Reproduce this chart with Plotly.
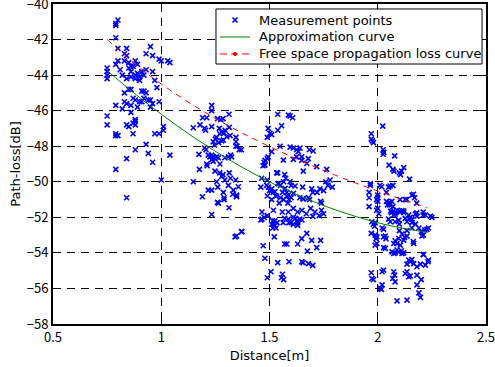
import plotly.graph_objects as go

near_points = [
    (0.80,-40.9),(0.79,-41.1),(0.79,-41.2),(0.79,-41.9),(0.80,-42.5),(0.84,-42.5),(0.95,-42.4),(0.83,-42.8),
    (0.84,-42.9),(0.93,-42.8),(0.96,-42.9),(0.99,-43.1),(1.00,-43.2),(1.03,-43.2),(1.04,-43.3),(0.80,-43.2),
    (0.79,-43.4),(0.83,-43.2),(0.85,-43.3),(0.86,-43.5),(0.88,-43.2),(0.89,-43.4),(0.87,-43.5),(0.75,-43.6),
    (0.75,-43.8),(0.75,-44.0),(0.75,-44.2),(0.81,-43.7),(0.85,-43.6),(0.86,-43.8),(0.88,-44.0),(0.89,-43.9),
    (0.90,-44.1),(0.91,-43.8),(0.92,-44.0),(0.93,-43.7),(0.96,-43.8),(0.97,-44.3),(0.98,-44.7),(0.90,-44.3),
    (0.88,-44.2),(0.86,-44.1),(0.84,-44.2),(0.82,-44.0),(0.85,-44.8),(0.86,-44.8),(0.83,-45.0),(0.91,-44.9),
    (0.92,-44.9),(0.93,-45.0),(0.92,-45.3),(0.94,-45.4),(0.96,-45.6),(0.95,-45.8),(0.90,-45.5),(0.91,-45.5),
    (0.89,-45.8),(0.83,-45.5),(0.84,-45.6),(0.87,-45.3),(0.88,-45.4),(0.86,-45.7),(0.79,-45.7),(0.82,-45.9),
    (0.86,-46.1),(0.95,-45.4),(0.99,-45.5),(0.75,-46.3),(0.75,-46.8),(0.84,-46.8),(0.85,-46.9),(0.88,-46.5),
    (0.88,-46.6),(0.88,-46.8),(0.87,-46.7),(0.79,-47.3),(0.80,-47.4),(0.79,-47.4),(0.87,-47.3),(0.97,-47.3),
    (0.99,-47.3),(1.01,-46.9),(1.01,-47.1),(0.88,-48.2),(0.93,-47.9),(0.94,-48.4),(1.04,-48.5),(0.84,-48.7),
    (0.96,-48.9),(0.79,-49.3),(1.00,-49.9),(0.84,-50.9),
]

mid_points = [
    (1.233,-45.7),(1.233,-46.0),(1.191,-46.4),(1.21,-46.4),(1.26,-46.45),(1.275,-46.5),(1.285,-46.45),(1.313,-46.2),
    (1.148,-46.96),(1.179,-46.8),(1.20,-47.0),(1.205,-47.1),(1.233,-46.9),(1.268,-47.0),(1.279,-47.19),(1.27,-47.3),
    (1.29,-47.25),(1.295,-47.1),(1.302,-47.47),(1.318,-47.4),(1.287,-47.65),(1.28,-47.7),(1.265,-47.8),(1.255,-47.5),
    (1.25,-47.6),(1.24,-47.75),(1.245,-47.93),(1.314,-46.94),(1.345,-47.75),(1.345,-48.0),(1.20,-48.1),(1.207,-48.2),
    (1.174,-48.46),(1.217,-48.5),(1.225,-48.6),(1.233,-48.5),(1.24,-48.6),(1.248,-48.7),(1.255,-48.6),(1.264,-48.65),
    (1.24,-48.85),(1.233,-48.75),(1.21,-49.0),(1.212,-49.1),(1.31,-48.6),(1.32,-48.5),(1.325,-48.6),(1.294,-48.65),
    (1.271,-49.0),(1.176,-49.3),(1.248,-49.4),(1.27,-49.5),(1.28,-49.7),(1.285,-49.6),(1.314,-49.5),(1.32,-49.8),
    (1.148,-50.0),(1.256,-50.0),(1.294,-49.9),(1.344,-49.9),(1.31,-50.2),(1.261,-50.3),(1.217,-50.47),(1.233,-50.47),
    (1.333,-50.47),(1.287,-50.6),(1.19,-50.84),(1.29,-50.9),(1.348,-50.84),(1.26,-51.16),(1.29,-51.0),(1.313,-51.46),
    (1.33,-50.7),(1.233,-51.84),(1.341,-53.1),(1.372,-52.8),(1.264,-51.2),
    (1.538,-46.2),(1.587,-46.25),(1.595,-46.3),(1.607,-46.4),(1.556,-46.85),(1.538,-47.1),(1.494,-47.0),(1.502,-47.28),
    (1.51,-47.35),(1.49,-47.5),(1.345,-47.5),(1.35,-48.0),(1.36,-48.2),(1.37,-48.2),(1.549,-48.0),(1.595,-48.05),
    (1.61,-48.1),(1.625,-48.2),(1.633,-48.3),(1.641,-48.1),(1.625,-48.6),(1.51,-48.3),(1.47,-49.1),(1.475,-48.9),
    (1.48,-48.8),(1.49,-48.7),(1.649,-48.8),(1.538,-49.5),(1.57,-49.6),(1.575,-49.8),(1.565,-50.0),(1.595,-50.0),
    (1.656,-49.4),(1.464,-49.8),(1.487,-50.2),(1.49,-49.9),(1.495,-50.3),(1.50,-50.5),(1.51,-50.4),(1.517,-50.6),
    (1.525,-50.56),(1.53,-50.8),(1.54,-50.1),(1.55,-50.2),(1.572,-50.37),(1.58,-50.6),(1.587,-50.75),(1.60,-50.9),
    (1.61,-50.65),(1.55,-50.9),(1.56,-50.6),(1.356,-50.28),(1.348,-50.75),
    (1.684,-48.2),(1.702,-48.27),(1.649,-48.6),(1.679,-48.7),(1.672,-48.97),(1.718,-49.15),(1.764,-49.3),(1.61,-48.74),
    (1.564,-48.78),(1.479,-49.06),(1.494,-48.6),(1.533,-49.5),
    (1.49,-50.8),(1.51,-51.0),(1.53,-50.8),(1.545,-51.2),(1.565,-51.0),(1.58,-50.8),(1.585,-51.2),(1.59,-51.0),
    (1.656,-50.97),(1.465,-51.7),(1.475,-52.0),(1.465,-52.1),(1.46,-52.15),(1.49,-51.9),(1.518,-51.6),(1.535,-52.3),
    (1.525,-52.45),(1.515,-52.6),(1.53,-52.6),(1.51,-52.4),(1.559,-51.7),(1.587,-51.7),(1.57,-52.05),(1.587,-52.1),
    (1.61,-52.0),(1.62,-52.05),(1.64,-52.1),(1.65,-52.15),(1.60,-52.3),(1.61,-52.4),(1.63,-52.45),
    (1.371,-52.8),(1.348,-53.05),(1.522,-53.1),(1.57,-53.5),(1.58,-53.5),(1.471,-53.6),(1.63,-53.5),(1.649,-53.2),
    (1.479,-54.3),(1.538,-54.55),(1.59,-54.5),(1.649,-54.5),(1.507,-55.06),(1.56,-55.2),(1.565,-55.5),(1.555,-55.4),
    (1.49,-55.4),(1.672,-52.9),(1.695,-53.3),(1.736,-53.3),(1.675,-53.9),(1.718,-53.7),(1.655,-54.55),(1.68,-54.6),
    (1.70,-54.7),(1.736,-51.1),(1.74,-51.2),(1.695,-50.4),(1.70,-50.6),(1.733,-50.4),(1.68,-50.9),(1.685,-51.0),
    (1.64,-50.9),(1.655,-50.95),(1.618,-50.24),(1.653,-50.3),
    (1.61,-51.5),(1.63,-51.7),(1.65,-51.6),(1.67,-51.8),(1.69,-51.5),(1.71,-51.7),(1.73,-51.9),(1.74,-51.6),
    (1.75,-51.8),(1.70,-51.95),(1.563,-52.3),(1.59,-52.3),(1.627,-52.2),(1.63,-52.3),(1.515,-52.2),(1.525,-52.2),
    (1.46,-50.3),(1.54,-50.1),(1.6,-50.2),(1.72,-50.6),(1.75,-50.5),(1.77,-50.2),(1.79,-50.3),(1.76,-50.0),(1.78,-49.9),
]

far_points = [
    (2.023,-46.87),(1.97,-47.3),(1.97,-47.6),(1.975,-47.7),(1.98,-47.8),(2.025,-48.2),(2.028,-48.35),(2.025,-48.45),
    (2.078,-48.54),(2.052,-49.06),(2.07,-49.3),(2.075,-49.4),(2.10,-49.5),(2.105,-49.6),(2.11,-49.4),(2.12,-49.2),
    (2.147,-49.85),(1.966,-50.1),(1.966,-50.2),(2.01,-50.2),(2.05,-50.3),(2.07,-50.2),(2.04,-50.6),(1.96,-50.6),
    (1.96,-50.9),(1.96,-51.4),(2.0,-50.75),(2.0,-50.9),(1.995,-51.0),(2.0,-51.1),(2.04,-51.1),(2.055,-51.15),
    (2.065,-51.1),(2.055,-51.3),(2.045,-51.3),(2.07,-51.4),(2.127,-51.0),(2.158,-50.75),(2.165,-50.7),(2.17,-50.9),
    (2.09,-51.6),(2.10,-51.65),(2.12,-51.65),(2.06,-51.65),(2.07,-51.7),(2.08,-51.75),(2.0,-51.5),(1.995,-51.6),
    (2.005,-51.8),(2.18,-51.75),(2.21,-51.7),
    (2.063,-51.74),(2.074,-51.87),(2.08,-51.82),(2.104,-51.69),(2.112,-51.63),(2.12,-51.74),(2.143,-51.87),(2.15,-52.0),
    (2.158,-52.1),(2.174,-51.82),(2.181,-51.93),(2.22,-51.87),(2.243,-51.93),(2.25,-52.0),(1.973,-52.25),(1.98,-52.38),
    (1.985,-52.5),(1.988,-52.3),(1.97,-52.9),(1.988,-53.0),(1.996,-53.1),(1.992,-53.2),(2.02,-52.6),(2.027,-52.68),
    (2.027,-53.1),(2.035,-53.05),(2.038,-53.2),(2.05,-52.1),(2.058,-52.25),(2.08,-52.25),(2.097,-52.16),(2.1,-52.38),
    (2.127,-52.06),(2.135,-52.25),(2.146,-52.1),(2.158,-52.3),(2.174,-52.38),(2.19,-52.6),(2.201,-52.8),(2.217,-52.7),
    (2.227,-52.68),(2.204,-53.05),(2.1,-52.75),(2.135,-52.75),(2.158,-52.6),(2.112,-52.94),(2.124,-53.13),(2.135,-53.06),
    (2.097,-53.19),(2.08,-53.32),(2.074,-53.47),(2.089,-53.47),(2.104,-53.56),(2.12,-53.28),(2.166,-53.47),(1.988,-53.56),
    (1.996,-53.47),(2.035,-53.75),(2.027,-53.7),(2.066,-53.94),(2.074,-54.03),(2.08,-54.0),(2.089,-53.84),(2.097,-53.94),
    (2.109,-53.88),(2.112,-54.03),(2.12,-54.0),(2.212,-54.09),(2.143,-54.4),(2.15,-54.5),(2.158,-54.37),(2.166,-54.6),
    (2.135,-54.63),(2.181,-54.78),(2.197,-54.63),(2.22,-54.69),(2.232,-54.5),(2.027,-54.97),(2.02,-55.06),(1.97,-55.12),
    (1.973,-55.44),(1.98,-55.5),(2.074,-55.06),(2.078,-55.25),(2.08,-55.63),(2.069,-55.44),(2.127,-55.16),(2.135,-55.06),
    (2.143,-55.34),(2.15,-55.3),(2.181,-55.25),(2.201,-55.5),(2.02,-55.8),(2.017,-56.05),(2.012,-56.0),(2.181,-55.8),
    (2.19,-56.25),(2.197,-56.5),(2.089,-56.7),(2.135,-56.66),
    (2.018,-50.28),(2.057,-50.24),(2.103,-51.0),(2.134,-51.0),(2.18,-51.2),(2.21,-51.87),(2.234,-52.6),(2.21,-53.0),
    (2.164,-53.37),(2.21,-54.1),(2.234,-54.4),
]

# Approximation curve
approx_dist = [0.75, 0.85, 1.0, 1.15, 1.3, 1.45, 1.6, 1.75, 1.9, 2.05, 2.23]
approx_loss = [-43.74, -44.77, -46.2, -47.5, -48.66, -49.69, -50.58, -51.34, -51.96, -52.45, -52.85]

# Free space propagation loss curve
free_dist = [0.75, 0.9, 1.0, 1.2, 1.4, 1.6, 1.8, 2.0, 2.23]
free_loss = [-42.0, -43.58, -44.5, -46.08, -47.42, -48.58, -49.61, -50.52, -51.47]

x_ticks = [0.5, 1, 1.5, 2, 2.5]
x_tick_labels = ["0.5", "1", "1.5", "2", "2.5"]
y_ticks = [-58, -56, -54, -52, -50, -48, -46, -44, -42, -40]

legend_labels = ["Measurement points", "Approximation curve", "Free space propagation loss curve"]

all_points = near_points + mid_points + far_points
meas_dist = [p[0] for p in all_points]
meas_loss = [p[1] for p in all_points]

TICK_FONT = "Noto Sans CJK JP"
TEXT_FONT = "DejaVu Sans"
BLUE, GREEN, RED = "#0000ff", "#008000", "#ff0000"

fig = go.Figure()
fig.add_trace(go.Scatter(
    x=meas_dist, y=meas_loss, mode="markers", name=legend_labels[0],
    marker=dict(symbol="x-thin", size=5, color=BLUE, line=dict(color=BLUE, width=1.6)),
))
fig.add_trace(go.Scatter(
    x=approx_dist, y=approx_loss, mode="lines", name=legend_labels[1],
    line=dict(color=GREEN, width=1, shape="spline"),
))
fig.add_trace(go.Scatter(
    x=free_dist, y=free_loss, mode="lines", name=legend_labels[2],
    line=dict(color=RED, width=1, dash="6px,5px", shape="spline"),
))

axis_common = dict(
    showline=True, linecolor="black", linewidth=2, mirror="ticks",
    ticks="inside", ticklen=5, tickcolor="black", tickwidth=1,
    showgrid=True, gridcolor="black", gridwidth=1, griddash="8px,6px",
    zeroline=False, ticklabeloverflow="allow", automargin=False,
    tickfont=dict(family=TICK_FONT, size=13, color="black"),
)

fig.update_xaxes(
    range=[0.5, 2.5], tickvals=x_ticks, ticktext=x_tick_labels,
    title=dict(text="Distance[m]", font=dict(family=TEXT_FONT, size=13, color="black"), standoff=6),
    **axis_common,
)
fig.update_yaxes(
    range=[-58, -40], tickvals=y_ticks,
    title=dict(text="Path-loss[dB]", font=dict(family=TEXT_FONT, size=13, color="black"), standoff=3),
    **axis_common,
)

# ---- hand-drawn MATLAB-style legend box (paper coordinates of the plot area) ----
PW, PH = 433.0, 320.0           # plot area size in px
def px(dx):
    return dx / PW
def py(dy):
    return dy / PH

box_x0, box_x1 = 0.3764, 0.9908
box_y0, box_y1 = 0.8125, 0.9844
row_y = [0.950, 0.8969, 0.8438]
sample_x0, sample_x1 = 0.3857, 0.4550
sample_xc = (sample_x0 + sample_x1) / 2
text_x = 0.4711

shapes = [dict(type="rect", xref="paper", yref="paper", x0=box_x0, x1=box_x1, y0=box_y0, y1=box_y1,
               line=dict(color="black", width=1), fillcolor="white", layer="above")]
# blue x marker sample
r = 2.5
shapes.append(dict(type="line", xref="paper", yref="paper",
                   x0=sample_xc - px(r), x1=sample_xc + px(r), y0=row_y[0] - py(r), y1=row_y[0] + py(r),
                   line=dict(color=BLUE, width=1.6), layer="above"))
shapes.append(dict(type="line", xref="paper", yref="paper",
                   x0=sample_xc - px(r), x1=sample_xc + px(r), y0=row_y[0] + py(r), y1=row_y[0] - py(r),
                   line=dict(color=BLUE, width=1.6), layer="above"))
# green line sample
shapes.append(dict(type="line", xref="paper", yref="paper", x0=sample_x0, x1=sample_x1, y0=row_y[1], y1=row_y[1],
                   line=dict(color=GREEN, width=1), layer="above"))
# red dashed sample with dot
shapes.append(dict(type="line", xref="paper", yref="paper", x0=sample_x0, x1=sample_x1, y0=row_y[2], y1=row_y[2],
                   line=dict(color=RED, width=1, dash="7px,4px"), layer="above"))
d = 1.6
shapes.append(dict(type="circle", xref="paper", yref="paper",
                   x0=sample_xc - px(d), x1=sample_xc + px(d), y0=row_y[2] - py(d), y1=row_y[2] + py(d),
                   line=dict(color=RED, width=1), fillcolor=RED, layer="above"))

annotations = [dict(xref="paper", yref="paper", x=text_x, y=yy, text=lab, showarrow=False,
                    xanchor="left", yanchor="middle",
                    font=dict(family=TEXT_FONT, size=13, color="black"))
               for lab, yy in zip(legend_labels, row_y)]

fig.update_layout(
    width=495, height=367,
    margin=dict(l=53, r=9, t=4, b=43),
    paper_bgcolor="white", plot_bgcolor="white",
    font=dict(family=TEXT_FONT, size=12, color="black"),
    showlegend=False,
    shapes=shapes,
    annotations=annotations,
)

fig.write_html("out.html")
